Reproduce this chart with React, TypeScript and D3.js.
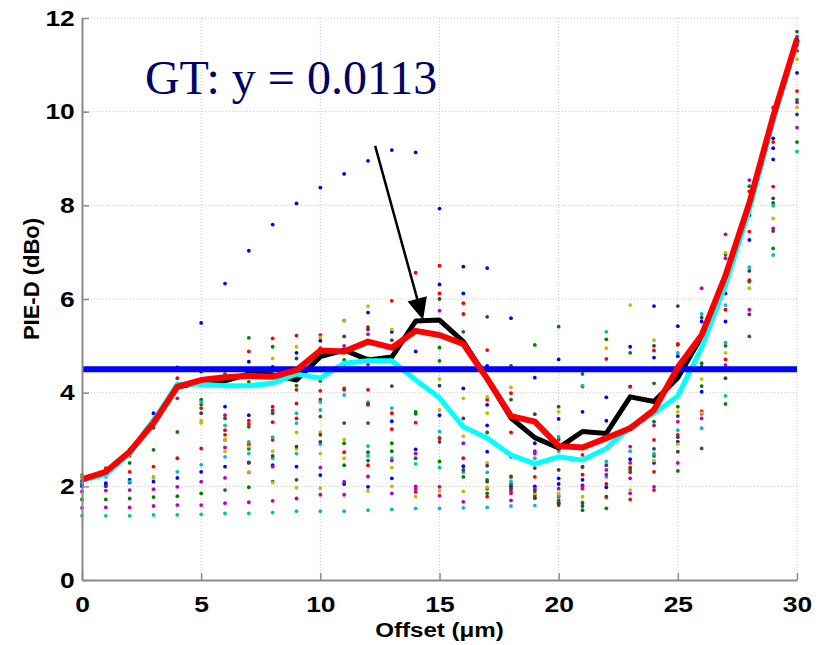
import React, { useEffect, useRef } from 'react';
import * as d3 from 'd3';

// offsets in um (x categories)
const offsets = [0, 1, 2, 3, 4, 5, 6, 7, 8, 9, 10, 11, 12, 13, 14, 15, 16, 17, 18, 19, 20, 21, 22, 23, 24, 25, 26, 27, 28, 29, 30];
const xTicks = [0, 5, 10, 15, 20, 25, 30];
const yTicks = [0, 2, 4, 6, 8, 10, 12];

// mean curves
const blackLine = [2.15, 2.3, 2.72, 3.4, 4.12, 4.22, 4.25, 4.4, 4.38, 4.27, 4.77, 4.91, 4.7, 4.76, 5.53, 5.55, 5.09, 4.3, 3.46, 3.04, 2.82, 3.17, 3.13, 3.91, 3.81, 4.32, 5.2, 6.5, 8.0, 9.85, 11.55];
const redLine = [2.15, 2.31, 2.74, 3.35, 4.13, 4.27, 4.33, 4.36, 4.34, 4.48, 4.9, 4.88, 5.09, 4.96, 5.32, 5.23, 5.04, 4.3, 3.5, 3.38, 2.86, 2.83, 3.03, 3.24, 3.63, 4.54, 5.23, 6.5, 8.05, 9.9, 11.55];
const cyanLine = [2.13, 2.25, 2.7, 3.4, 4.18, 4.18, 4.15, 4.15, 4.2, 4.4, 4.31, 4.63, 4.68, 4.68, 4.27, 3.89, 3.27, 3.03, 2.67, 2.48, 2.63, 2.56, 2.81, 3.27, 3.56, 3.93, 4.96, 6.3, 7.9, 9.8, 11.5];
const threshold = 4.5;

// scattered samples, one list per offset
const dotsBlue = [[2.05, 2.0], [2.07, 2.03], [2.78, 2.14, 2.08], [3.56, 2.1], [4.54, 2.18], [5.49, 4.45, 2.31], [6.33, 3.7, 2.42], [7.03, 4.66, 3.52, 2.51], [7.59, 4.55, 2.45], [8.04, 4.85, 2.42], [8.38, 5.11, 2.24], [8.67, 5.54, 4.55, 2.05], [8.95, 5.71, 1.99], [9.18, 5.3, 3.39, 2.17], [9.13, 4.88, 2.79], [7.93, 6.31, 3.52], [6.69, 6.12, 4.09, 2.43], [6.66, 4.57, 3.74, 3.3, 2.74], [5.59, 2.0], [4.32, 2.92, 2.0], [4.71, 3.44, 2.17, 2.05], [3.59, 2.14, 2.02], [3.9, 3.4, 1.98], [4.98, 4.13, 2.58], [5.85, 4.75, 2.5], [5.42, 4.78, 2.95], [5.52, 4.55, 4.02], [6.12, 5.52], [7.79, 7.26], [9.43, 9.22, 8.98], [11.42, 10.83]];
const dotsGreen = [[2.24, 1.72], [1.72, 2.3], [2.5, 1.74], [2.78, 1.77], [3.16, 1.79], [3.85, 3.75, 1.85], [3.45, 2.99, 1.92, 4.4], [5.17, 4.23, 3.27, 2.8, 1.98], [4.98, 3.56, 2.1], [4.15, 2.14], [3.49, 4.25], [4.7, 4.09, 2.92, 2.45], [3.35, 2.73, 2.55], [2.92, 2.75], [3.59, 3.55, 2.6], [4.96, 4.68, 3.03, 2.53], [5.3, 2.2], [3.15, 2.14, 1.85], [3.85, 2.63, 2.05], [5.02, 1.8], [5.41, 3.7, 1.7, 1.65], [4.4, 1.65, 1.49], [5.14, 1.53], [4.85, 2.3], [4.2, 3.38, 2.65], [5.02, 3.7, 2.33], [4.63, 4.14, 2.81], [6.95, 6.26, 5.0, 3.76], [8.41, 6.37, 5.2], [8.05, 7.08], [11.71, 10.25, 9.35]];
const dotsRed = [[2.2], [2.39], [2.31], [2.42], [4.31, 2.6], [3.67, 2.81], [3.2, 3.1], [4.88, 3.4, 3.33, 2.9], [5.16, 3.7, 3.37, 2.99], [5.22, 4.06, 3.77, 3.45], [5.23, 4.04, 3.85, 4.95], [4.55, 4.06, 2.73], [5.4, 4.06, 3.74, 2.45], [5.96, 3.56, 3.22], [6.56, 3.36, 1.88], [6.71, 6.12, 3.03], [5.91, 5.68, 2.6], [4.91, 3.85, 1.78], [3.99, 3.15, 1.9], [2.2, 1.75], [3.0, 1.78], [4.13, 2.67, 2.25, 1.95], [4.72, 2.05], [4.13, 2.5, 2.35, 1.72], [4.9, 2.99, 2.31, 1.92], [5.04, 3.1], [5.3, 3.6], [5.77, 4.71], [8.3, 7.44, 6.4], [10.09, 9.35, 8.4], [10.44, 11.3]];
const dotsCyan = [[1.37, 2.1], [1.37, 2.2], [1.37, 2.1], [1.39, 2.2], [1.39, 2.31], [2.46, 1.4, 3.8], [3.3, 2.63, 1.42], [2.95, 2.7, 1.42], [3.05, 2.6, 1.44], [3.56, 3.35, 2.7, 1.47], [3.8, 3.63, 2.9, 1.47], [3.95, 1.47], [3.8, 2.86, 2.65, 1.49], [3.67, 2.6, 1.51], [2.48, 1.53], [3.17, 2.4, 1.53], [2.3, 1.54], [2.3, 1.55], [2.1, 1.58], [2.6, 1.59], [3.06, 2.75, 1.8], [4.15, 2.4], [5.3, 2.53, 2.2], [2.75], [2.7], [4.85, 3.2], [5.68, 3.24], [5.87, 5.07, 3.93], [6.68], [7.99, 6.94], [9.15, 11.5]];
const dotsMagenta = [[1.89, 1.54], [1.91, 1.55], [1.92, 1.55], [1.94, 1.58], [3.88, 1.99, 1.6], [4.16, 2.1, 1.6], [3.52, 2.83, 2.18, 1.64], [1.66, 2.3], [3.62, 2.42, 1.69], [1.74], [4.9, 2.4, 1.82], [5.0, 2.1, 1.82], [5.25, 4.6, 2.21], [2.55, 1.85], [2.7, 2.0, 1.95], [5.75, 1.99, 1.8], [2.92, 1.67], [1.95], [1.85, 1.7], [2.7, 2.75, 1.95], [1.95], [2.0], [2.35, 2.25], [2.85, 2.17, 1.85], [3.3, 1.99], [3.38, 2.5], [6.23, 3.45, 3.55], [7.38, 6.87, 4.59], [8.54, 5.77], [7.51], [11.6, 10.2, 9.66]];
const dotsYellow = [[2.22], [2.25], [2.7], [2.18], [4.2], [3.4, 3.35, 4.3], [2.99, 2.75], [2.85, 2.31], [4.73, 2.75, 2.08], [4.98, 3.15, 2.8, 1.97], [5.18, 3.15, 2.7, 1.96], [5.54, 3.0, 2.6], [5.85, 4.75, 1.9], [5.35, 2.4, 2.0], [5.3, 1.78], [4.29, 3.63, 1.9], [3.88, 3.07, 1.89], [3.91, 3.56, 2.5, 1.98], [4.11, 2.18], [1.85], [3.59, 1.85], [1.78], [4.95, 1.75], [5.87, 1.92], [5.12, 2.55], [3.59, 2.9], [4.29, 3.57], [6.99, 4.85], [6.23], [7.72], [11.12, 10.09]];
const dotsBlack = [[2.12], [2.0], [2.65], [3.25], [4.1], [3.56], [4.3], [2.5], [2.65], [4.73, 2.85], [3.1, 2.95], [5.2, 3.35], [5.35, 3.76], [5.12, 4.14], [4.5], [6.0, 4.15, 2.95], [3.45, 2.35], [5.62, 2.44, 2.1], [4.57, 2.21, 1.95], [3.54, 2.39, 1.9, 1.75], [2.81, 2.35, 1.64, 1.6], [2.42, 1.58], [2.45, 1.78], [2.4], [5.0, 2.8], [5.85, 3.5, 3.05, 2.74], [5.6], [6.3, 4.31], [6.6, 5.67], [8.15, 7.45], [11.55, 9.94]];

const annotation = 'GT: y = 0.0113';

const App = () => {
  const svgRef = useRef<SVGSVGElement>(null);

  useEffect(() => {
    const width = 824;
    const height = 645;
    const marginLeft = 82;
    const marginRight = 27;
    const marginTop = 18;
    const marginBottom = 65;

    const svg = d3.select(svgRef.current);
    svg.selectAll('*').remove();
    svg.attr('width', width).attr('height', height);

    const x = d3.scaleLinear().domain([0, 30]).range([marginLeft, width - marginRight]);
    const y = d3.scaleLinear().domain([0, 12]).range([height - marginBottom, marginTop]);

    svg.append('rect').attr('width', width).attr('height', height).attr('fill', '#fff');

    // dotted grid
    const grid = svg.append('g').attr('stroke', '#c8c8c8').attr('stroke-width', 1).attr('stroke-dasharray', '1,2');
    grid.selectAll('line.gx')
      .data(xTicks.slice(1))
      .join('line')
      .attr('x1', d => x(d)).attr('x2', d => x(d))
      .attr('y1', y(0)).attr('y2', y(12));
    grid.selectAll('line.gy')
      .data(yTicks.slice(1))
      .join('line')
      .attr('class', 'gy')
      .attr('x1', x(0)).attr('x2', x(30))
      .attr('y1', d => y(d)).attr('y2', d => y(d));

    // scattered samples
    const dotSets: [number[][], string][] = [
      [dotsBlue, '#0000ff'],
      [dotsGreen, '#008000'],
      [dotsRed, '#ff0000'],
      [dotsCyan, '#00bfbf'],
      [dotsMagenta, '#bf00bf'],
      [dotsYellow, '#bfbf00'],
      [dotsBlack, '#404040'],
    ];
    const dots = svg.append('g');
    dotSets.forEach(([set, color]) => {
      const pts: [number, number][] = [];
      set.forEach((vals, i) => vals.forEach(v => pts.push([offsets[i], v])));
      dots.append('g')
        .selectAll('circle')
        .data(pts)
        .join('circle')
        .attr('cx', d => x(d[0]))
        .attr('cy', d => y(d[1]))
        .attr('r', 1.9)
        .attr('fill', color);
    });

    const line = d3.line<number>().x((d, i) => x(offsets[i])).y(d => y(d));

    svg.append('path').datum(blackLine).attr('d', line)
      .attr('fill', 'none').attr('stroke', '#000').attr('stroke-width', 5).attr('stroke-linejoin', 'round');
    svg.append('path').datum(cyanLine).attr('d', line)
      .attr('fill', 'none').attr('stroke', '#00ffff').attr('stroke-width', 5).attr('stroke-linejoin', 'round');
    svg.append('line')
      .attr('x1', x(0)).attr('x2', x(30))
      .attr('y1', y(threshold)).attr('y2', y(threshold))
      .attr('stroke', '#0000ff').attr('stroke-width', 6);
    svg.append('path').datum(redLine).attr('d', line)
      .attr('fill', 'none').attr('stroke', '#ff0000').attr('stroke-width', 6).attr('stroke-linejoin', 'round');

    // axes
    const xAxis = svg.append('g')
      .attr('transform', `translate(0,${y(0)})`)
      .call(d3.axisBottom(x).tickValues(xTicks).tickSizeInner(-7).tickSizeOuter(0).tickPadding(16));
    const yAxis = svg.append('g')
      .attr('transform', `translate(${x(0)},0)`)
      .call(d3.axisLeft(y).tickValues(yTicks).tickSizeInner(-7).tickSizeOuter(0).tickPadding(6));
    [xAxis, yAxis].forEach(a => {
      a.select('.domain').attr('stroke', '#8a8a8a').attr('stroke-width', 2);
      a.selectAll('.tick line').attr('stroke', '#8a8a8a').attr('stroke-width', 1.5);
      a.selectAll('.tick text')
        .attr('fill', '#000')
        .style('font-family', "'Liberation Sans', Arial, sans-serif")
        .style('font-weight', 'bold')
        .style('font-size', '22px');
    });
    xAxis.selectAll('.tick text').attr('transform', 'scale(1.2,1)');
    yAxis.selectAll('.tick text').attr('transform', 'scale(1.2,1)');

    svg.append('text')
      .attr('transform', `translate(${(x(0) + x(30)) / 2},637) scale(1.15,1)`)
      .attr('text-anchor', 'middle')
      .style('font-family', "'Liberation Sans', Arial, sans-serif")
      .style('font-weight', 'bold')
      .style('font-size', '21px')
      .text('Offset (\u03bcm)');

    svg.append('text')
      .attr('transform', `translate(39,279) rotate(-90)`)
      .attr('text-anchor', 'middle')
      .style('font-family', "'Liberation Sans', Arial, sans-serif")
      .style('font-weight', 'bold')
      .style('font-size', '22px')
      .text('PIE-D (dBo)');

    // annotation text
    svg.append('text')
      .attr('x', x(2.64))
      .attr('y', y(10.38))
      .attr('fill', '#000066')
      .style('font-family', "'Liberation Serif', 'Times New Roman', serif")
      .style('font-size', '48px')
      .text(annotation);

    // arrow
    const [ax0, ay0] = [x(12.3), y(9.27)];
    const [ax1, ay1] = [x(14.31), y(5.55)];
    const ang = Math.atan2(ay1 - ay0, ax1 - ax0);
    const headLen = 22;
    const headHalf = 10;
    const bx = ax1 - headLen * Math.cos(ang);
    const by = ay1 - headLen * Math.sin(ang);
    svg.append('line')
      .attr('x1', ax0).attr('y1', ay0).attr('x2', bx).attr('y2', by)
      .attr('stroke', '#000').attr('stroke-width', 2.5);
    svg.append('path')
      .attr('d', `M${ax1},${ay1}L${bx + headHalf * Math.sin(ang)},${by - headHalf * Math.cos(ang)}L${bx - headHalf * Math.sin(ang)},${by + headHalf * Math.cos(ang)}Z`)
      .attr('fill', '#000');
  }, []);

  return (
    <svg ref={svgRef} style={{ position: 'absolute', left: 0, top: 0, display: 'block' }}></svg>
  );
};

export default App;
